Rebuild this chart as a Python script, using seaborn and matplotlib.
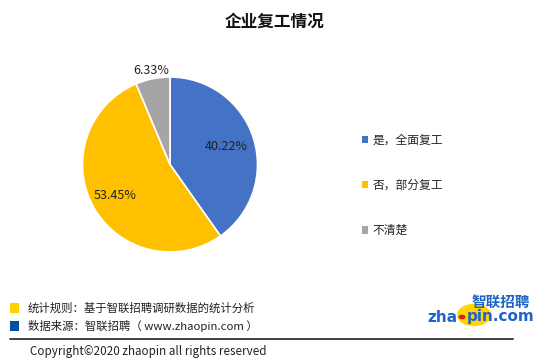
import numpy as np
import matplotlib
matplotlib.use("Agg")
import matplotlib.pyplot as plt
import seaborn as sns
from matplotlib.patches import Rectangle, Circle
from matplotlib.lines import Line2D

sns.set_theme(style="white")
plt.rcParams['font.family'] = ['Noto Sans CJK SC', 'DejaVu Sans']

title = "企业复工情况"
categories = ["是，全面复工", "否，部分复工", "不清楚"]
values = [40.22, 53.45, 6.33]
colors = ["#4472C4", "#FFC000", "#A5A5A5"]
label_dist = [0.67, 0.72, 1.1]

notes = ["统计规则：基于智联招聘调研数据的统计分析", "数据来源：智联招聘（ www.zhaopin.com ）"]
note_colors = ["#FFD200", "#0050A0"]
copyright_text = "Copyright©2020 zhaopin all rights reserved"

W, H = 550, 362
fig = plt.figure(figsize=(W / 100, H / 100), dpi=100)
fig.patch.set_facecolor("white")

def fx(x):
    return x / W

def fy(y):
    return 1 - y / H

# pie axes
cx, cy, r = 170, 164.5, 87.5
ax = fig.add_axes([fx(cx - r), fy(cy + r), 2 * r / W, 2 * r / H])
wedges, _ = ax.pie(values, colors=colors, startangle=90, counterclock=False,
                   wedgeprops=dict(edgecolor="white", linewidth=1.2))
ax.set_xlim(-1, 1)
ax.set_ylim(-1, 1)
ax.set_aspect("equal")
ax.axis("off")
for w in wedges:
    w.set_clip_on(False)
for w, v, d in zip(wedges, values, label_dist):
    ang = np.deg2rad((w.theta1 + w.theta2) / 2)
    ax.text(d * np.cos(ang), d * np.sin(ang), f"{v:.2f}%", ha="center", va="center",
            fontsize=9, color="#222222", clip_on=False)

fig.text(0.5, fy(21.5), title, ha="center", va="center", fontsize=12, fontweight="bold", color="#111111")

# legend
handles = [Rectangle((0, 0), 1, 1, facecolor=c, edgecolor="none") for c in colors]
fig.legend(handles, categories, loc="upper left", bbox_to_anchor=(fx(362), fy(134)),
           frameon=False, fontsize=8.5, handlelength=0.55, handleheight=0.55,
           handletextpad=0.35, labelspacing=2.72, borderaxespad=0, borderpad=0)

# footer
for i, (t, c) in enumerate(zip(notes, note_colors)):
    yc = 308 + i * 17.5
    fig.patches.append(Rectangle((fx(10), fy(yc + 5)), 9 / W, 10 / H, facecolor=c,
                                 edgecolor="none", transform=fig.transFigure, figure=fig))
    fig.text(fx(28), fy(yc), t, ha="left", va="center", fontsize=8.2, color="#222222")

fig.lines.append(Line2D([fx(10), fx(513)], [fy(338.5), fy(338.5)], transform=fig.transFigure,
                        color="#333333", linewidth=1.3, figure=fig))
fig.text(fx(30), fy(351.5), copyright_text, ha="left", va="center", fontsize=8.4, color="#222222")

# logo
fig.patches.append(Circle((fx(474), fy(315)), 17 / W, facecolor="#FFD400", edgecolor="none",
                          transform=fig.transFigure, figure=fig))
fig.patches.append(Circle((fx(462), fy(317)), 3.5 / W, facecolor="#D82020", edgecolor="none",
                          transform=fig.transFigure, figure=fig))
fig.text(fx(530), fy(302), "智联招聘", ha="right", va="center", fontsize=10.5, fontweight="bold",
         color="#1E64C8", style="italic")
fig.text(fx(457), fy(317), "zha", ha="right", va="center", fontsize=11, fontweight="bold",
         color="#1E64C8", family="DejaVu Sans")
fig.text(fx(467), fy(317), "pin.com", ha="left", va="center", fontsize=11, fontweight="bold",
         color="#1E64C8", family="DejaVu Sans")

fig.savefig("out.png", dpi=100, facecolor="white")
